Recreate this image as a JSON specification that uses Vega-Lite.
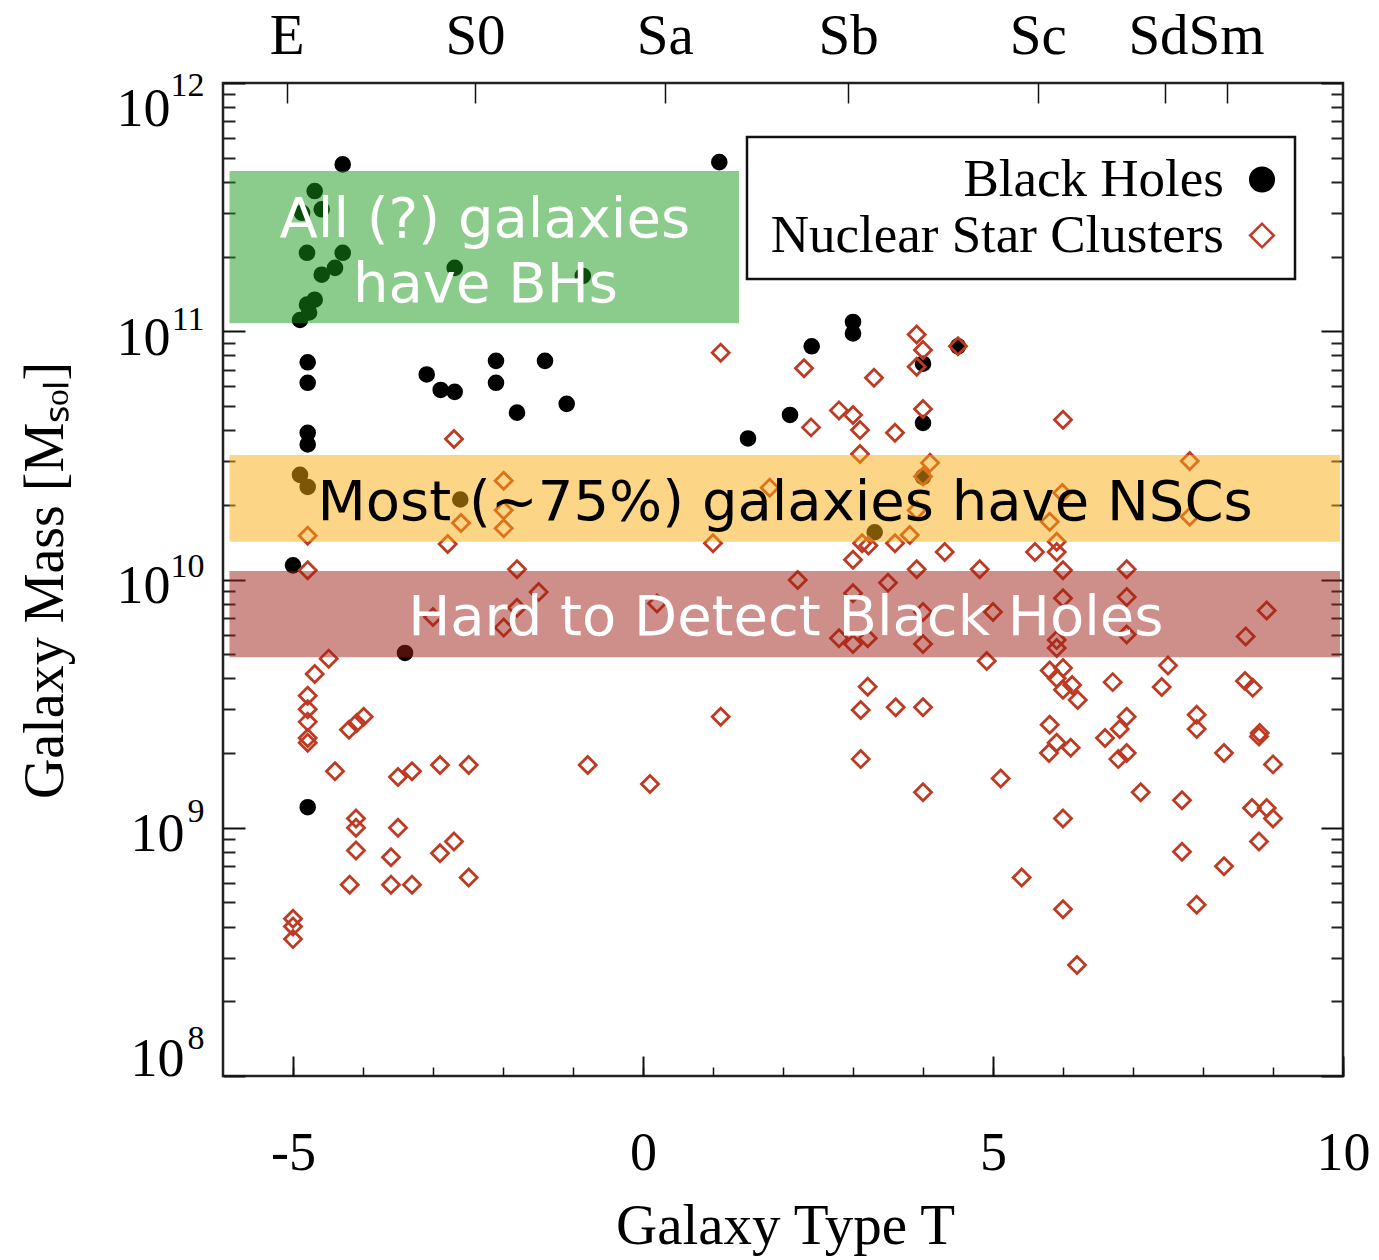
{
  "$schema": "https://vega.github.io/schema/vega-lite/v6.json",
  "width": 1120,
  "height": 993,
  "autosize": {"type": "none"},
  "padding": {"left": 223, "top": 83, "right": 36, "bottom": 184},
  "background": "white",
  "config": {
    "view": {"stroke": "#222", "strokeWidth": 2.5},
    "axis": {"grid": false, "domain": false},
    "font": "Liberation Serif"
  },
  "datasets": {
    "gal": [
      {"T": -4.29, "M": 4.7e11, "type": "Black Holes"},
      {"T": 1.09, "M": 4.8e11, "type": "Black Holes"},
      {"T": -4.69, "M": 3.67e11, "type": "Black Holes"},
      {"T": -4.59, "M": 3.1e11, "type": "Black Holes"},
      {"T": -4.87, "M": 3.0e11, "type": "Black Holes"},
      {"T": -4.8, "M": 2.07e11, "type": "Black Holes"},
      {"T": -4.29, "M": 2.07e11, "type": "Black Holes"},
      {"T": -4.4, "M": 1.8e11, "type": "Black Holes"},
      {"T": -4.59, "M": 1.69e11, "type": "Black Holes"},
      {"T": -4.69, "M": 1.34e11, "type": "Black Holes"},
      {"T": -4.8, "M": 1.28e11, "type": "Black Holes"},
      {"T": -4.77, "M": 1.19e11, "type": "Black Holes"},
      {"T": -4.9, "M": 1.11e11, "type": "Black Holes"},
      {"T": -2.69, "M": 1.8e11, "type": "Black Holes"},
      {"T": -0.86, "M": 1.67e11, "type": "Black Holes"},
      {"T": -4.79, "M": 7.5e10, "type": "Black Holes"},
      {"T": -4.79, "M": 6.2e10, "type": "Black Holes"},
      {"T": -3.09, "M": 6.7e10, "type": "Black Holes"},
      {"T": -2.89, "M": 5.8e10, "type": "Black Holes"},
      {"T": -2.69, "M": 5.7e10, "type": "Black Holes"},
      {"T": -2.1, "M": 7.6e10, "type": "Black Holes"},
      {"T": -2.1, "M": 6.2e10, "type": "Black Holes"},
      {"T": -1.4, "M": 7.6e10, "type": "Black Holes"},
      {"T": -1.8, "M": 4.7e10, "type": "Black Holes"},
      {"T": -1.09, "M": 5.1e10, "type": "Black Holes"},
      {"T": -4.79, "M": 3.9e10, "type": "Black Holes"},
      {"T": -4.79, "M": 3.5e10, "type": "Black Holes"},
      {"T": -4.9, "M": 2.64e10, "type": "Black Holes"},
      {"T": -4.79, "M": 2.36e10, "type": "Black Holes"},
      {"T": -2.61, "M": 2.1e10, "type": "Black Holes"},
      {"T": -5.0, "M": 1.14e10, "type": "Black Holes"},
      {"T": -3.4, "M": 5.06e9, "type": "Black Holes"},
      {"T": -4.79, "M": 1.21e9, "type": "Black Holes"},
      {"T": 3.0, "M": 1.09e11, "type": "Black Holes"},
      {"T": 3.0, "M": 9.8e10, "type": "Black Holes"},
      {"T": 2.41, "M": 8.7e10, "type": "Black Holes"},
      {"T": 4.5, "M": 8.7e10, "type": "Black Holes"},
      {"T": 4.0, "M": 7.4e10, "type": "Black Holes"},
      {"T": 2.1, "M": 4.6e10, "type": "Black Holes"},
      {"T": 1.5, "M": 3.7e10, "type": "Black Holes"},
      {"T": 4.0, "M": 4.27e10, "type": "Black Holes"},
      {"T": 4.0, "M": 2.59e10, "type": "Black Holes"},
      {"T": 3.31, "M": 1.55e10, "type": "Black Holes"},
      {"T": -2.7, "M": 3.68e10, "type": "Nuclear Star Clusters"},
      {"T": -1.99, "M": 2.5e10, "type": "Nuclear Star Clusters"},
      {"T": -1.99, "M": 1.9e10, "type": "Nuclear Star Clusters"},
      {"T": -1.99, "M": 1.61e10, "type": "Nuclear Star Clusters"},
      {"T": -2.6, "M": 1.69e10, "type": "Nuclear Star Clusters"},
      {"T": -2.79, "M": 1.39e10, "type": "Nuclear Star Clusters"},
      {"T": -4.79, "M": 1.5e10, "type": "Nuclear Star Clusters"},
      {"T": -4.79, "M": 1.09e10, "type": "Nuclear Star Clusters"},
      {"T": -1.8, "M": 1.1e10, "type": "Nuclear Star Clusters"},
      {"T": -1.49, "M": 8.9e9, "type": "Nuclear Star Clusters"},
      {"T": -3.0, "M": 7.06e9, "type": "Nuclear Star Clusters"},
      {"T": -1.8, "M": 7.7e9, "type": "Nuclear Star Clusters"},
      {"T": -1.99, "M": 6.4e9, "type": "Nuclear Star Clusters"},
      {"T": 0.2, "M": 8.0e9, "type": "Nuclear Star Clusters"},
      {"T": -4.49, "M": 4.8e9, "type": "Nuclear Star Clusters"},
      {"T": -4.69, "M": 4.16e9, "type": "Nuclear Star Clusters"},
      {"T": -4.79, "M": 3.4e9, "type": "Nuclear Star Clusters"},
      {"T": -4.79, "M": 3.0e9, "type": "Nuclear Star Clusters"},
      {"T": -4.79, "M": 2.67e9, "type": "Nuclear Star Clusters"},
      {"T": -4.79, "M": 2.3e9, "type": "Nuclear Star Clusters"},
      {"T": -4.79, "M": 2.2e9, "type": "Nuclear Star Clusters"},
      {"T": -3.99, "M": 2.8e9, "type": "Nuclear Star Clusters"},
      {"T": -4.09, "M": 2.64e9, "type": "Nuclear Star Clusters"},
      {"T": -4.2, "M": 2.48e9, "type": "Nuclear Star Clusters"},
      {"T": -4.4, "M": 1.69e9, "type": "Nuclear Star Clusters"},
      {"T": -3.5, "M": 1.6e9, "type": "Nuclear Star Clusters"},
      {"T": -3.3, "M": 1.69e9, "type": "Nuclear Star Clusters"},
      {"T": -2.9, "M": 1.79e9, "type": "Nuclear Star Clusters"},
      {"T": -2.49, "M": 1.79e9, "type": "Nuclear Star Clusters"},
      {"T": -0.79, "M": 1.79e9, "type": "Nuclear Star Clusters"},
      {"T": 0.1, "M": 1.5e9, "type": "Nuclear Star Clusters"},
      {"T": -4.1, "M": 1.09e9, "type": "Nuclear Star Clusters"},
      {"T": -4.1, "M": 1.0e9, "type": "Nuclear Star Clusters"},
      {"T": -3.5, "M": 1.0e9, "type": "Nuclear Star Clusters"},
      {"T": -4.1, "M": 8.1e8, "type": "Nuclear Star Clusters"},
      {"T": -3.6, "M": 7.6e8, "type": "Nuclear Star Clusters"},
      {"T": -2.9, "M": 7.9e8, "type": "Nuclear Star Clusters"},
      {"T": -2.7, "M": 8.8e8, "type": "Nuclear Star Clusters"},
      {"T": -2.49, "M": 6.3e8, "type": "Nuclear Star Clusters"},
      {"T": -4.19, "M": 5.9e8, "type": "Nuclear Star Clusters"},
      {"T": -3.6, "M": 5.9e8, "type": "Nuclear Star Clusters"},
      {"T": -3.3, "M": 5.9e8, "type": "Nuclear Star Clusters"},
      {"T": -5.0, "M": 4.3e8, "type": "Nuclear Star Clusters"},
      {"T": -5.0, "M": 4.0e8, "type": "Nuclear Star Clusters"},
      {"T": -5.0, "M": 3.56e8, "type": "Nuclear Star Clusters"},
      {"T": 1.11, "M": 8.2e10, "type": "Nuclear Star Clusters"},
      {"T": 3.91, "M": 9.7e10, "type": "Nuclear Star Clusters"},
      {"T": 4.0, "M": 8.4e10, "type": "Nuclear Star Clusters"},
      {"T": 4.5, "M": 8.7e10, "type": "Nuclear Star Clusters"},
      {"T": 3.91, "M": 7.2e10, "type": "Nuclear Star Clusters"},
      {"T": 2.3, "M": 7.1e10, "type": "Nuclear Star Clusters"},
      {"T": 3.3, "M": 6.5e10, "type": "Nuclear Star Clusters"},
      {"T": 2.8, "M": 4.8e10, "type": "Nuclear Star Clusters"},
      {"T": 3.0, "M": 4.6e10, "type": "Nuclear Star Clusters"},
      {"T": 3.1, "M": 4.0e10, "type": "Nuclear Star Clusters"},
      {"T": 2.4, "M": 4.1e10, "type": "Nuclear Star Clusters"},
      {"T": 3.6, "M": 3.9e10, "type": "Nuclear Star Clusters"},
      {"T": 4.0, "M": 4.86e10, "type": "Nuclear Star Clusters"},
      {"T": 3.1, "M": 3.2e10, "type": "Nuclear Star Clusters"},
      {"T": 4.1, "M": 2.95e10, "type": "Nuclear Star Clusters"},
      {"T": 4.0, "M": 2.6e10, "type": "Nuclear Star Clusters"},
      {"T": 1.81, "M": 2.34e10, "type": "Nuclear Star Clusters"},
      {"T": 3.91, "M": 1.9e10, "type": "Nuclear Star Clusters"},
      {"T": 3.81, "M": 1.51e10, "type": "Nuclear Star Clusters"},
      {"T": 3.6, "M": 1.4e10, "type": "Nuclear Star Clusters"},
      {"T": 3.13, "M": 1.4e10, "type": "Nuclear Star Clusters"},
      {"T": 3.22, "M": 1.37e10, "type": "Nuclear Star Clusters"},
      {"T": 1.0, "M": 1.4e10, "type": "Nuclear Star Clusters"},
      {"T": 3.0, "M": 1.2e10, "type": "Nuclear Star Clusters"},
      {"T": 4.31, "M": 1.29e10, "type": "Nuclear Star Clusters"},
      {"T": 3.91, "M": 1.1e10, "type": "Nuclear Star Clusters"},
      {"T": 4.81, "M": 1.1e10, "type": "Nuclear Star Clusters"},
      {"T": 2.21, "M": 9.96e9, "type": "Nuclear Star Clusters"},
      {"T": 3.5, "M": 9.7e9, "type": "Nuclear Star Clusters"},
      {"T": 3.0, "M": 8.8e9, "type": "Nuclear Star Clusters"},
      {"T": 4.0, "M": 7.4e9, "type": "Nuclear Star Clusters"},
      {"T": 5.0, "M": 7.4e9, "type": "Nuclear Star Clusters"},
      {"T": 2.8, "M": 5.8e9, "type": "Nuclear Star Clusters"},
      {"T": 3.0, "M": 5.5e9, "type": "Nuclear Star Clusters"},
      {"T": 3.21, "M": 5.8e9, "type": "Nuclear Star Clusters"},
      {"T": 4.0, "M": 5.5e9, "type": "Nuclear Star Clusters"},
      {"T": 4.91, "M": 4.7e9, "type": "Nuclear Star Clusters"},
      {"T": 3.21, "M": 3.7e9, "type": "Nuclear Star Clusters"},
      {"T": 3.11, "M": 2.98e9, "type": "Nuclear Star Clusters"},
      {"T": 3.61, "M": 3.06e9, "type": "Nuclear Star Clusters"},
      {"T": 4.0, "M": 3.06e9, "type": "Nuclear Star Clusters"},
      {"T": 1.11, "M": 2.8e9, "type": "Nuclear Star Clusters"},
      {"T": 3.11, "M": 1.89e9, "type": "Nuclear Star Clusters"},
      {"T": 5.11, "M": 1.58e9, "type": "Nuclear Star Clusters"},
      {"T": 4.0, "M": 1.39e9, "type": "Nuclear Star Clusters"},
      {"T": 5.41, "M": 6.3e8, "type": "Nuclear Star Clusters"},
      {"T": 6.0, "M": 4.4e10, "type": "Nuclear Star Clusters"},
      {"T": 7.81, "M": 3.0e10, "type": "Nuclear Star Clusters"},
      {"T": 5.99, "M": 2.23e10, "type": "Nuclear Star Clusters"},
      {"T": 5.81, "M": 1.71e10, "type": "Nuclear Star Clusters"},
      {"T": 7.81, "M": 1.79e10, "type": "Nuclear Star Clusters"},
      {"T": 5.91, "M": 1.42e10, "type": "Nuclear Star Clusters"},
      {"T": 5.6, "M": 1.29e10, "type": "Nuclear Star Clusters"},
      {"T": 5.91, "M": 1.29e10, "type": "Nuclear Star Clusters"},
      {"T": 6.0, "M": 1.09e10, "type": "Nuclear Star Clusters"},
      {"T": 6.91, "M": 1.1e10, "type": "Nuclear Star Clusters"},
      {"T": 6.0, "M": 8.4e9, "type": "Nuclear Star Clusters"},
      {"T": 6.91, "M": 8.5e9, "type": "Nuclear Star Clusters"},
      {"T": 8.91, "M": 7.5e9, "type": "Nuclear Star Clusters"},
      {"T": 6.91, "M": 6.0e9, "type": "Nuclear Star Clusters"},
      {"T": 8.61, "M": 5.9e9, "type": "Nuclear Star Clusters"},
      {"T": 5.91, "M": 5.7e9, "type": "Nuclear Star Clusters"},
      {"T": 5.91, "M": 5.3e9, "type": "Nuclear Star Clusters"},
      {"T": 5.81, "M": 4.3e9, "type": "Nuclear Star Clusters"},
      {"T": 6.0, "M": 4.4e9, "type": "Nuclear Star Clusters"},
      {"T": 5.91, "M": 4.0e9, "type": "Nuclear Star Clusters"},
      {"T": 6.0, "M": 3.6e9, "type": "Nuclear Star Clusters"},
      {"T": 6.13, "M": 3.76e9, "type": "Nuclear Star Clusters"},
      {"T": 6.21, "M": 3.27e9, "type": "Nuclear Star Clusters"},
      {"T": 6.71, "M": 3.86e9, "type": "Nuclear Star Clusters"},
      {"T": 7.5, "M": 4.5e9, "type": "Nuclear Star Clusters"},
      {"T": 7.41, "M": 3.69e9, "type": "Nuclear Star Clusters"},
      {"T": 8.6, "M": 3.9e9, "type": "Nuclear Star Clusters"},
      {"T": 8.71, "M": 3.66e9, "type": "Nuclear Star Clusters"},
      {"T": 5.81, "M": 2.6e9, "type": "Nuclear Star Clusters"},
      {"T": 6.91, "M": 2.8e9, "type": "Nuclear Star Clusters"},
      {"T": 6.81, "M": 2.5e9, "type": "Nuclear Star Clusters"},
      {"T": 7.91, "M": 2.85e9, "type": "Nuclear Star Clusters"},
      {"T": 7.91, "M": 2.5e9, "type": "Nuclear Star Clusters"},
      {"T": 8.81, "M": 2.41e9, "type": "Nuclear Star Clusters"},
      {"T": 8.8, "M": 2.33e9, "type": "Nuclear Star Clusters"},
      {"T": 5.91, "M": 2.2e9, "type": "Nuclear Star Clusters"},
      {"T": 5.8, "M": 2.0e9, "type": "Nuclear Star Clusters"},
      {"T": 6.11, "M": 2.1e9, "type": "Nuclear Star Clusters"},
      {"T": 6.6, "M": 2.3e9, "type": "Nuclear Star Clusters"},
      {"T": 6.79, "M": 1.89e9, "type": "Nuclear Star Clusters"},
      {"T": 6.91, "M": 2.0e9, "type": "Nuclear Star Clusters"},
      {"T": 8.3, "M": 2.0e9, "type": "Nuclear Star Clusters"},
      {"T": 9.0, "M": 1.8e9, "type": "Nuclear Star Clusters"},
      {"T": 7.11, "M": 1.39e9, "type": "Nuclear Star Clusters"},
      {"T": 7.7, "M": 1.29e9, "type": "Nuclear Star Clusters"},
      {"T": 6.0, "M": 1.09e9, "type": "Nuclear Star Clusters"},
      {"T": 8.7, "M": 1.2e9, "type": "Nuclear Star Clusters"},
      {"T": 8.91, "M": 1.2e9, "type": "Nuclear Star Clusters"},
      {"T": 9.0, "M": 1.09e9, "type": "Nuclear Star Clusters"},
      {"T": 7.7, "M": 8.0e8, "type": "Nuclear Star Clusters"},
      {"T": 8.8, "M": 8.8e8, "type": "Nuclear Star Clusters"},
      {"T": 8.3, "M": 7.0e8, "type": "Nuclear Star Clusters"},
      {"T": 6.0, "M": 4.7e8, "type": "Nuclear Star Clusters"},
      {"T": 7.91, "M": 4.9e8, "type": "Nuclear Star Clusters"},
      {"T": 6.2, "M": 2.8e8, "type": "Nuclear Star Clusters"}
    ],
    "bands": [
      {"band": "green", "T1": -5.907, "T2": 1.371, "M1": 1.0765e11, "M2": 4.42e11},
      {"band": "orange", "T1": -5.907, "T2": 9.957, "M1": 1.42e10, "M2": 3.173e10},
      {"band": "red", "T1": -5.907, "T2": 9.957, "M1": 4.86e9, "M2": 1.082e10}
    ],
    "notes": [
      {"note": "All (?) galaxies", "T": -2.26, "M": 2.398e11, "tone": "light"},
      {"note": "have BHs", "T": -2.25, "M": 1.312e11, "tone": "light"},
      {"note": "Hard to Detect Black Holes", "T": 2.04, "M": 5.976e9, "tone": "light"},
      {"note": "Most (~75%) galaxies have NSCs", "T": 2.03, "M": 1.737e10, "tone": "dark"}
    ]
  },
  "resolve": {"axis": {"x": "independent", "y": "independent"}},
  "layer": [
    {
      "data": {"name": "gal"},
      "mark": {"type": "point", "strokeWidth": 2.8, "opacity": 1},
      "encoding": {
        "x": {
          "field": "T", "type": "quantitative",
          "scale": {"domain": [-6, 10], "nice": false, "zero": false},
          "axis": {
            "orient": "bottom", "values": [-5, 0, 5, 10], "ticks": false, "tickSize": 0,
            "labelFont": "Liberation Serif", "labelFontSize": 54, "labelColor": "#000",
            "labelPadding": 93, "labelBaseline": "alphabetic", "labelFlush": false,
            "labelExpr": "datum.value < 0 ? '-' + (-datum.value) : '' + datum.value",
            "title": "Galaxy Type T", "titleFont": "Liberation Serif", "titleFontSize": 57,
            "titleFontWeight": "normal", "titleColor": "#000", "titleBaseline": "alphabetic",
            "titleX": 562, "titleY": 167, "titleAlign": "center"
          }
        },
        "y": {
          "field": "M", "type": "quantitative",
          "scale": {"type": "log", "domain": [1e8, 1e12], "nice": false},
          "axis": {
            "orient": "left", "values": [1e8, 1e9, 1e10, 1e11, 1e12], "ticks": false, "tickSize": 0,
            "labelExpr": "'10'", "labelFont": "Liberation Serif", "labelFontSize": 54, "labelColor": "#000",
            "labelAlign": "right", "labelBaseline": "middle", "labelFlush": false, "labelBound": false,
            "labelPadding": {"condition": {"test": "datum.value > 5e9", "value": 53}, "value": 39},
            "labelOffset": {"condition": [{"test": "datum.value > 5e11", "value": 26}, {"test": "datum.value < 2e8", "value": -17}], "value": 7},
            "title": "Galaxy Mass [Mₛₒₗ]", "titleFont": "Liberation Serif", "titleFontSize": 56,
            "titleFontWeight": "normal", "titleColor": "#000", "titleAngle": 270,
            "titleBaseline": "alphabetic", "titleAlign": "center", "titleX": -161, "titleY": 497
          }
        },
        "size": {
          "field": "type", "type": "nominal",
          "scale": {"domain": ["Nuclear Star Clusters", "Black Holes"], "range": [290, 190]},
          "legend": null
        },
        "shape": {
          "field": "type", "type": "nominal",
          "scale": {"domain": ["Black Holes", "Nuclear Star Clusters"], "range": ["circle", "diamond"]},
          "legend": {
            "orient": "none", "legendX": 524, "legendY": 54, "title": null,
            "labelFont": "Liberation Serif", "labelFontSize": 53, "labelColor": "#000",
            "labelLimit": 1000, "symbolSize": 560, "symbolStrokeWidth": 2.5, "rowPadding": 2, "padding": 16,
            "strokeColor": "#111", "fillColor": "white",
            "encoding": {
              "legend": {"strokeWidth": {"value": 2.5}},
              "symbols": {"x": {"value": 499}},
              "labels": {"x": {"value": 461}, "align": {"value": "right"}}
            }
          }
        },
        "fill": {
          "field": "type", "type": "nominal",
          "scale": {"domain": ["Black Holes", "Nuclear Star Clusters"], "range": ["#000000", "transparent"]},
          "legend": {
            "orient": "none", "legendX": 524, "legendY": 54, "title": null,
            "labelFont": "Liberation Serif", "labelFontSize": 53, "labelColor": "#000",
            "labelLimit": 1000, "symbolSize": 560, "symbolStrokeWidth": 2.5, "rowPadding": 2, "padding": 16,
            "strokeColor": "#111", "fillColor": "white",
            "encoding": {
              "legend": {"strokeWidth": {"value": 2.5}},
              "symbols": {"x": {"value": 499}},
              "labels": {"x": {"value": 461}, "align": {"value": "right"}}
            }
          }
        },
        "stroke": {
          "field": "type", "type": "nominal",
          "scale": {"domain": ["Black Holes", "Nuclear Star Clusters"], "range": ["#000000", "#bf3a22"]},
          "legend": {
            "orient": "none", "legendX": 524, "legendY": 54, "title": null,
            "labelFont": "Liberation Serif", "labelFontSize": 53, "labelColor": "#000",
            "labelLimit": 1000, "symbolSize": 560, "symbolStrokeWidth": 2.5, "rowPadding": 2, "padding": 16,
            "strokeColor": "#111", "fillColor": "white",
            "encoding": {
              "legend": {"strokeWidth": {"value": 2.5}},
              "symbols": {"x": {"value": 499}},
              "labels": {"x": {"value": 461}, "align": {"value": "right"}}
            }
          }
        }
      }
    },
    {
      "data": {"name": "bands"},
      "transform": [{"filter": "datum.band == 'green'"}],
      "mark": {"type": "rect", "fill": "#179717", "opacity": 0.5},
      "encoding": {
        "x": {"field": "T1", "type": "quantitative",
          "axis": {"orient": "bottom", "values": [-5, -4, -3, -2, -1, 0, 1, 2, 3, 4, 5, 6, 7, 8, 9, 10], "labels": false, "ticks": true, "tickSize": -9, "tickWidth": 1.5, "tickColor": "#111", "title": null}},
        "x2": {"field": "T2"},
        "y": {"field": "M1", "type": "quantitative",
          "axis": {
            "orient": "left", "values": [1e8, 1e9, 1e10, 1e11, 1e12], "ticks": false, "tickSize": 0,
            "labelExpr": "'' + round(log(datum.value) / LN10)", "labelFont": "Liberation Serif",
            "labelFontSize": 34, "labelColor": "#000", "labelAlign": "right", "labelBaseline": "middle",
            "labelFlush": false, "labelBound": false, "labelPadding": 19,
            "labelOffset": {"condition": [{"test": "datum.value > 5e11", "value": 2}, {"test": "datum.value > 5e10", "value": -12}, {"test": "datum.value > 5e9", "value": -13}, {"test": "datum.value > 5e8", "value": -16}], "value": -38},
            "title": null
          }},
        "y2": {"field": "M2"}
      }
    },
    {
      "data": {"name": "bands"},
      "transform": [{"filter": "datum.band == 'orange'"}],
      "mark": {"type": "rect", "fill": "#f9ab0f", "opacity": 0.5},
      "encoding": {
        "x": {"field": "T1", "type": "quantitative",
          "axis": {"orient": "bottom", "values": [-5, 0, 5, 10], "labels": false, "ticks": true, "tickSize": -20, "tickWidth": 2, "tickColor": "#111", "title": null}},
        "x2": {"field": "T2"},
        "y": {"field": "M1", "type": "quantitative",
          "axis": {"orient": "left", "values": [2e8, 3e8, 4e8, 5e8, 6e8, 7e8, 8e8, 9e8, 2e9, 3e9, 4e9, 5e9, 6e9, 7e9, 8e9, 9e9, 2e10, 3e10, 4e10, 5e10, 6e10, 7e10, 8e10, 9e10, 2e11, 3e11, 4e11, 5e11, 6e11, 7e11, 8e11, 9e11], "labels": false, "ticks": true, "tickSize": -12, "tickWidth": 2, "tickColor": "#222", "title": null}},
        "y2": {"field": "M2"}
      }
    },
    {
      "data": {"name": "bands"},
      "transform": [{"filter": "datum.band == 'red'"}],
      "mark": {"type": "rect", "fill": "#9d1d13", "opacity": 0.5},
      "encoding": {
        "x": {"field": "T1", "type": "quantitative",
          "axis": {"orient": "top", "values": [-5.09, -2.4, 0.31, 2.93, 5.64, 7.46, 8.34], "labels": false, "ticks": true, "tickSize": -20, "tickWidth": 1.5, "tickColor": "#111", "title": null}},
        "x2": {"field": "T2"},
        "y": {"field": "M1", "type": "quantitative",
          "axis": {"orient": "left", "values": [1e8, 1e9, 1e10, 1e11, 1e12], "labels": false, "ticks": true, "tickSize": -22, "tickWidth": 2, "tickColor": "#111", "title": null}},
        "y2": {"field": "M2"}
      }
    },
    {
      "data": {"name": "notes"},
      "transform": [{"filter": "datum.tone == 'light'"}],
      "mark": {"type": "text", "font": "DejaVu Sans", "fontSize": 56, "align": "center", "baseline": "alphabetic", "color": "white"},
      "encoding": {
        "x": {"field": "T", "type": "quantitative",
          "axis": {"orient": "top", "values": [-5.09, -2.4, 0.31, 2.93, 5.64, 7.9], "ticks": false, "tickSize": 0,
            "labelExpr": "datum.value < -4 ? 'E' : datum.value < -1 ? 'S0' : datum.value < 1 ? 'Sa' : datum.value < 4 ? 'Sb' : datum.value < 7 ? 'Sc' : 'SdSm'",
            "labelFont": "Liberation Serif", "labelFontSize": 57, "labelColor": "#000", "labelBaseline": "alphabetic",
            "labelPadding": 30, "labelFlush": false, "labelBound": false, "title": null}},
        "y": {"field": "M", "type": "quantitative",
          "axis": {"orient": "right", "values": [2e8, 3e8, 4e8, 5e8, 6e8, 7e8, 8e8, 9e8, 2e9, 3e9, 4e9, 5e9, 6e9, 7e9, 8e9, 9e9, 2e10, 3e10, 4e10, 5e10, 6e10, 7e10, 8e10, 9e10, 2e11, 3e11, 4e11, 5e11, 6e11, 7e11, 8e11, 9e11], "labels": false, "ticks": true, "tickSize": -12, "tickWidth": 2, "tickColor": "#222", "title": null}},
        "text": {"field": "note"}
      }
    },
    {
      "data": {"name": "notes"},
      "transform": [{"filter": "datum.tone == 'dark'"}],
      "mark": {"type": "text", "font": "DejaVu Sans", "fontSize": 56, "align": "center", "baseline": "alphabetic", "color": "black"},
      "encoding": {
        "x": {"field": "T", "type": "quantitative", "axis": null},
        "y": {"field": "M", "type": "quantitative",
          "axis": {"orient": "right", "values": [1e8, 1e9, 1e10, 1e11, 1e12], "labels": false, "ticks": true, "tickSize": -22, "tickWidth": 2, "tickColor": "#111", "title": null}},
        "text": {"field": "note"}
      }
    }
  ]
}
